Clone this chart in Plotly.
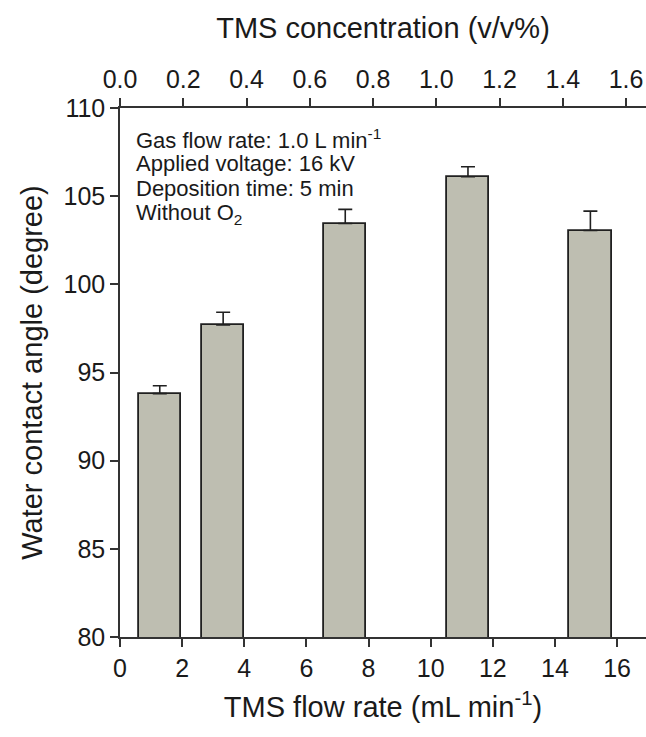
import plotly.graph_objects as go

# TMS flow rate (mL/min), mean water contact angle (deg) and upper error
flow_rate = [1.28, 3.32, 7.25, 11.2, 15.14]
contact_angle = [93.8, 97.7, 103.45, 106.1, 103.05]
angle_err = [0.45, 0.72, 0.8, 0.57, 1.1]
bar_width = 1.36

x_ticks = [0, 2, 4, 6, 8, 10, 12, 14, 16]
conc_ticks = [0.0, 0.2, 0.4, 0.6, 0.8, 1.0, 1.2, 1.4, 1.6]
conc_labels = ["0.0", "0.2", "0.4", "0.6", "0.8", "1.0", "1.2", "1.4", "1.6"]
y_ticks = [80, 85, 90, 95, 100, 105, 110]

notes = [
    "Gas flow rate: 1.0 L min<sup>-1</sup>",
    "Applied voltage: 16 kV",
    "Deposition time: 5 min",
    "Without O<sub>2</sub>",
]
note_y = [108.25, 106.83, 105.41, 103.99]

FONT = "Arial, Liberation Sans, sans-serif"
INK = "#1a1a1a"
AX = "#333333"

fig = go.Figure()
fig.add_trace(go.Bar(
    x=flow_rate, y=contact_angle, width=bar_width,
    base=0,
    marker=dict(color="#bebeb1", line=dict(color="#202020", width=1.8)),
    error_y=dict(type="data", symmetric=False, array=angle_err,
                 arrayminus=[0] * len(angle_err),
                 color="#202020", thickness=1.6, width=7),
    showlegend=False,
))
# invisible trace to activate the top concentration axis
fig.add_trace(go.Scatter(x=[0.8], y=[90], xaxis="x2", mode="markers",
                         marker=dict(opacity=0), showlegend=False,
                         hoverinfo="skip"))

for txt, yy in zip(notes, note_y):
    fig.add_annotation(x=0.45, y=yy, xref="x", yref="y", text=txt,
                       showarrow=False, xanchor="left", yanchor="middle",
                       font=dict(family=FONT, size=22, color=INK))

fig.update_layout(
    width=646, height=737,
    margin=dict(l=120, r=0, t=108, b=100),
    paper_bgcolor="white", plot_bgcolor="white",
    font=dict(family=FONT, color=INK),
    bargap=0,
    xaxis=dict(
        range=[0, 16.93], tickvals=x_ticks, ticktext=[str(v) for v in x_ticks],
        showline=True, linecolor=AX, linewidth=1.5,
        ticks="outside", ticklen=8, tickwidth=1.5, tickcolor=AX,
        showgrid=False, zeroline=False,
        tickfont=dict(size=25, family=FONT, color=INK),
        title=dict(text="TMS flow rate (mL min<sup>-1</sup>)",
                   font=dict(size=29, family=FONT, color=INK), standoff=16),
    ),
    xaxis2=dict(
        overlaying="x", side="top", range=[0, 1.663],
        tickvals=conc_ticks, ticktext=conc_labels,
        showline=True, linecolor=AX, linewidth=1.5,
        ticks="outside", ticklen=8, tickwidth=1.5, tickcolor=AX,
        showgrid=False, zeroline=False,
        tickfont=dict(size=25, family=FONT, color=INK),
        title=dict(text="TMS concentration (v/v%)",
                   font=dict(size=29, family=FONT, color=INK), standoff=18),
    ),
    yaxis=dict(
        range=[80, 110], tickvals=y_ticks,
        showline=True, linecolor=AX, linewidth=1.5,
        ticks="outside", ticklen=8, tickwidth=1.5, tickcolor=AX,
        showgrid=False, zeroline=False,
        tickfont=dict(size=25, family=FONT, color=INK),
        title=dict(text="Water contact angle (degree)",
                   font=dict(size=29, family=FONT, color=INK), standoff=12),
    ),
)

fig.write_html("out.html")
